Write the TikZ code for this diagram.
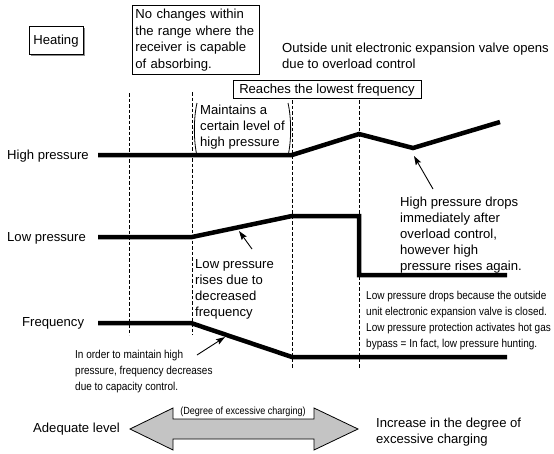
\documentclass[tikz,border=0pt]{standalone}
\usepackage{fontspec}
\setmainfont{Liberation Sans}
\newfontfamily\narrowfont[FakeStretch=0.87]{Liberation Sans}
\usetikzlibrary{arrows.meta,shadows}
\definecolor{arrowgray}{RGB}{196,196,196}
\begin{document}
\begin{tikzpicture}[x=1pt,y=-1pt,
  lbl/.style={font=\fontsize{13.1}{16}\selectfont, inner sep=0pt, align=left},
  nlbl/.style={font=\narrowfont\fontsize{11.5}{16}\selectfont, inner sep=0pt, align=left},
  trace/.style={line width=4.5pt, line join=miter},
  guide/.style={line width=0.6pt, dash pattern=on 3.5pt off 2pt},
  pointer/.style={line width=0.9pt, -{Stealth[length=9pt,width=6pt,inset=1.5pt]}},
  bracket/.style={line width=0.8pt},
  framed/.style={draw, line width=0.8pt, fill=white}
]
\useasboundingbox (0,0) rectangle (554,453);

% boxes
\node[framed, lbl, minimum width=54pt, minimum height=28pt, text depth=0pt,
      drop shadow={shadow xshift=2pt, shadow yshift=-2pt, fill=black!45, opacity=1}] (heat) at (56,40) {Heating};
\node[framed, lbl, font=\fontsize{13.1}{16.4}\selectfont, anchor=north west, text width=121pt,
      inner xsep=3pt, inner ysep=4pt] (nochg) at (132,5)
      {No changes within\\the range where the\\receiver is capable\\of absorbing.};
\node[framed, lbl, minimum width=188pt, minimum height=18.5pt, text depth=0pt] (reach) at (327,89.25)
      {Reaches the lowest frequency};

% guides
\coordinate (g1t) at (129,93);  \coordinate (g1b) at (129,335);
\coordinate (g2t) at (192,92);  \coordinate (g2b) at (192,335);
\coordinate (g3t) at (292,100); \coordinate (g3b) at (292,368);
\coordinate (g4t) at (359,100); \coordinate (g4b) at (359,368);
\draw[guide] (g1t) -- (g1b);
\draw[guide] (g2t) -- (g2b);
\draw[guide] (g3t) -- (g3b);
\draw[guide] (g4t) -- (g4b);

% traces
\coordinate (hp0) at (98,155);  \coordinate (hp1) at (292,155); \coordinate (hp2) at (359,134);
\coordinate (hp3) at (413,148); \coordinate (hp4) at (500,122);
\coordinate (lp0) at (98,237);  \coordinate (lp1) at (192,237); \coordinate (lp2) at (292,216);
\coordinate (lp3) at (359,216); \coordinate (lp4) at (359,275); \coordinate (lp5) at (507,275);
\coordinate (fq0) at (98,323);  \coordinate (fq1) at (191,323); \coordinate (fq2) at (292,357);
\coordinate (fq3) at (507,357);
\draw[trace] (hp0) -- (hp1) -- (hp2) -- (hp3) -- (hp4);
\draw[trace] (lp0) -- (lp1) -- (lp2) -- (lp3) -- (lp4) -- (lp5);
\draw[trace] (fq0) -- (fq1) -- (fq2) -- (fq3);

% row labels
\node[lbl, anchor=base west] (hpl) at (7,159.5) {High pressure};
\node[lbl, anchor=base west] (lpl) at (7,241.3) {Low pressure};
\node[lbl, anchor=base west] (fql) at (22,326) {Frequency};

% notes
\node[lbl, anchor=north west] (valve) at (282,43)
  {Outside unit electronic expansion valve opens\\due to overload control};
\node[lbl, anchor=north west] (maint) at (200,104.5)
  {Maintains a\\certain level of\\high pressure};
\draw[bracket] (197,103) .. controls (193.5,118) and (193.5,141) .. (197,156);
\draw[bracket] (288,103) .. controls (291.5,118) and (291.5,141) .. (288,156);
\node[lbl, anchor=north west] (lprise) at (195,259)
  {Low pressure\\rises due to\\decreased\\frequency};
\node[lbl, anchor=north west] (hpdrop) at (400,196.5)
  {High pressure drops\\immediately after\\overload control,\\however high\\pressure rises again.};
\node[nlbl, anchor=north west] (lpdrop) at (366,290.6)
  {Low pressure drops because the outside\\unit electronic expansion valve is closed.\\Low pressure protection activates hot gas\\bypass = In fact, low pressure hunting.};
\node[nlbl, anchor=north west] (order) at (75,350)
  {In order to maintain high\\pressure, frequency decreases\\due to capacity control.};

% pointers
\coordinate (a1s) at (252,249); \coordinate (a1e) at (239,231);
\coordinate (a2s) at (433,189); \coordinate (a2e) at (414,156);
\coordinate (a3s) at (197,355); \coordinate (a3e) at (225,337);
\draw[pointer] (a1s) -- (a1e);
\draw[pointer] (a2s) -- (a2e);
\draw[pointer] (a3s) -- (a3e);

% big double arrow
\draw[line width=0.8pt, fill=arrowgray, line join=miter]
  (130,429) -- (173,408) -- (173,419) -- (314,419) -- (314,408) -- (358,429)
  -- (314,450) -- (314,439) -- (173,439) -- (173,450) -- cycle;
\node[nlbl, font=\narrowfont\fontsize{10.4}{12}\selectfont, anchor=base] (degree) at (243,414.3)
  {(Degree of excessive charging)};
\node[lbl, anchor=base west] (adq) at (33,432.5) {Adequate level};
\node[lbl, anchor=north west] (incr) at (376,418)
  {Increase in the degree of\\excessive charging};
\end{tikzpicture}
\end{document}
